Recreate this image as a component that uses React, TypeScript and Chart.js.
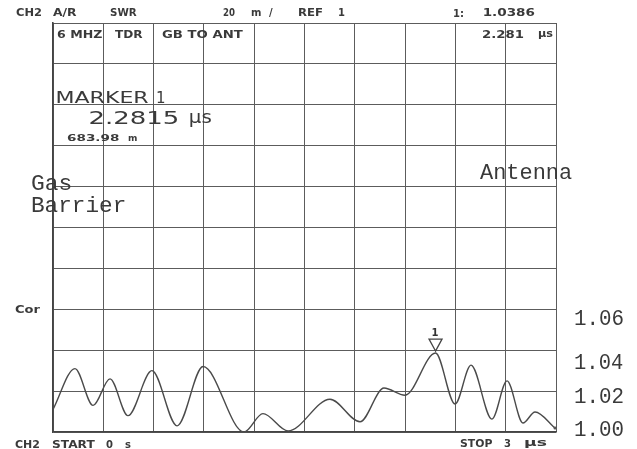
import React, { useEffect, useRef } from "react";
import { Chart, registerables } from "chart.js";
Chart.register(...registerables);

// Time axis (µs) and SWR values
const timeUs = [0, 0.131, 0.239, 0.34, 0.447, 0.59, 0.74, 0.895, 1.139, 1.252, 1.402, 1.652, 1.831, 1.974, 2.099, 2.2815, 2.398, 2.493, 2.618, 2.708, 2.803, 2.875, 2.994];
const swr = [1.011, 1.031, 1.013, 1.026, 1.008, 1.03, 1.003, 1.032, 1.0, 1.009, 1.0005, 1.016, 1.005, 1.0215, 1.018, 1.0386, 1.0137, 1.0327, 1.0063, 1.025, 1.0044, 1.0098, 1.002];
const markerTime = 2.2815;
const markerValue = 1.0386;
const rightLabels = ["1.06", "1.04", "1.02", "1.00"];

const SMALL = "bold 10px 'DejaVu Sans'";
const MONO = "22px 'Liberation Mono'";

function fitText(ctx: CanvasRenderingContext2D, s: string, x: number, yc: number, font: string, w?: number) {
  ctx.save();
  ctx.font = font;
  ctx.textAlign = "left";
  ctx.textBaseline = "alphabetic";
  const m = ctx.measureText(s);
  const ink = m.actualBoundingBoxLeft + m.actualBoundingBoxRight;
  const sx = w ? w / ink : 1;
  const base = yc + (m.actualBoundingBoxAscent - m.actualBoundingBoxDescent) / 2;
  ctx.translate(x + m.actualBoundingBoxLeft * sx, base);
  ctx.scale(sx, 1);
  ctx.fillText(s, 0, 0);
  ctx.restore();
}

const annot = {
  id: "annot",
  afterDraw(chart: any) {
    const ctx: CanvasRenderingContext2D = chart.ctx;
    ctx.save();
    ctx.fillStyle = "#3a3a3a";
    // header
    fitText(ctx, "CH2", 16, 12, SMALL, 26);
    fitText(ctx, "A/R", 53, 12, SMALL, 24);
    fitText(ctx, "SWR", 110, 12, SMALL, 27);
    fitText(ctx, "20", 223, 12, SMALL, 12);
    fitText(ctx, "m", 251, 13, SMALL);
    fitText(ctx, "/", 269, 12, SMALL);
    fitText(ctx, "REF", 298, 12, SMALL, 24);
    fitText(ctx, "1", 339, 12, SMALL);
    fitText(ctx, "1:", 454, 13, SMALL);
    fitText(ctx, "1.0386", 484, 12, SMALL, 51);
    // inside top row
    fitText(ctx, "6 MHZ", 57, 34, SMALL, 45);
    fitText(ctx, "TDR", 115, 34, SMALL, 28);
    fitText(ctx, "GB TO ANT", 162, 34, SMALL, 81);
    fitText(ctx, "2.281", 482, 34, SMALL, 42);
    fitText(ctx, "µs", 538, 35, SMALL, 15);
    // marker block
    fitText(ctx, "MARKER", 57, 97, "15px 'DejaVu Sans'", 91);
    fitText(ctx, "1", 157, 97, "15px 'DejaVu Sans'");
    fitText(ctx, "2.2815", 90, 117, "17px 'DejaVu Sans'", 88);
    fitText(ctx, "µs", 190, 120, "17px 'DejaVu Sans'", 22);
    fitText(ctx, "683.98", 67, 137, "bold 9px 'DejaVu Sans'", 52);
    fitText(ctx, "m", 128, 138, "bold 9px 'DejaVu Sans'");
    fitText(ctx, "Cor", 15, 309, SMALL, 25);
    // footer
    fitText(ctx, "CH2", 15, 444, SMALL, 25);
    fitText(ctx, "START", 52, 444, SMALL, 43);
    fitText(ctx, "0", 106, 444, SMALL);
    fitText(ctx, "s", 125, 445, SMALL);
    fitText(ctx, "STOP", 460, 443, SMALL, 32);
    fitText(ctx, "3", 504, 443, SMALL);
    fitText(ctx, "µs", 524, 444, SMALL, 23);
    // typed annotations
    ctx.fillStyle = "#3a3a3a";
    fitText(ctx, "Gas", 32, 182, MONO, 39);
    fitText(ctx, "Barrier", 32, 204, MONO, 93);
    fitText(ctx, "Antenna", 480, 171, MONO, 92);
    const ys = [317, 361, 395, 428];
    rightLabels.forEach((l, i) => fitText(ctx, l, 575, ys[i], MONO, 48));
    // marker triangle
    const xs = chart.scales.x, yS = chart.scales.y;
    const mx = xs.getPixelForValue(markerTime);
    const my = yS.getPixelForValue(markerValue);
    ctx.strokeStyle = "#444";
    ctx.lineWidth = 1.3;
    ctx.beginPath();
    ctx.moveTo(mx, my - 2);
    ctx.lineTo(mx - 6.5, my - 14);
    ctx.lineTo(mx + 6.5, my - 14);
    ctx.closePath();
    ctx.stroke();
    ctx.fillStyle = "#333";
    fitText(ctx, "1", mx - 3, my - 21, SMALL);
    ctx.restore();
  },
};

export default function App() {
  const ref = useRef<HTMLCanvasElement>(null);
  useEffect(() => {
    if (!ref.current) return;
    const grid = { color: "#5c5c5c", lineWidth: 1, drawTicks: false };
    const border = { display: true, color: "#444", width: 1.6 };
    const chart = new Chart(ref.current, {
      type: "line",
      data: {
        datasets: [
          {
            data: timeUs.map((t, i) => ({ x: t, y: swr[i] })),
            borderColor: "#4a4a4a",
            borderWidth: 1.4,
            pointRadius: timeUs.map((_, i) => (i === timeUs.length - 1 ? 1.5 : 0)),
            pointBackgroundColor: "#555",
            pointBorderWidth: 0,
            cubicInterpolationMode: "monotone",
            fill: false,
          },
        ],
      },
      options: {
        responsive: false,
        animation: false,
        layout: { padding: { left: 53, right: 81, top: 23, bottom: 17 } },
        plugins: { legend: { display: false }, tooltip: { enabled: false } },
        scales: {
          x: { type: "linear", min: 0, max: 3, ticks: { display: false, stepSize: 0.3 }, grid, border },
          y: { type: "linear", min: 1, max: 1.2, ticks: { display: false, stepSize: 0.02 }, grid, border },
        },
      } as any,
      plugins: [annot],
    });
    return () => chart.destroy();
  }, []);
  return (
    <div style={{ position: "fixed", left: 0, top: 0, width: 637, height: 449, background: "#fff" }}>
      <canvas ref={ref} width={637} height={449} />
    </div>
  );
}
